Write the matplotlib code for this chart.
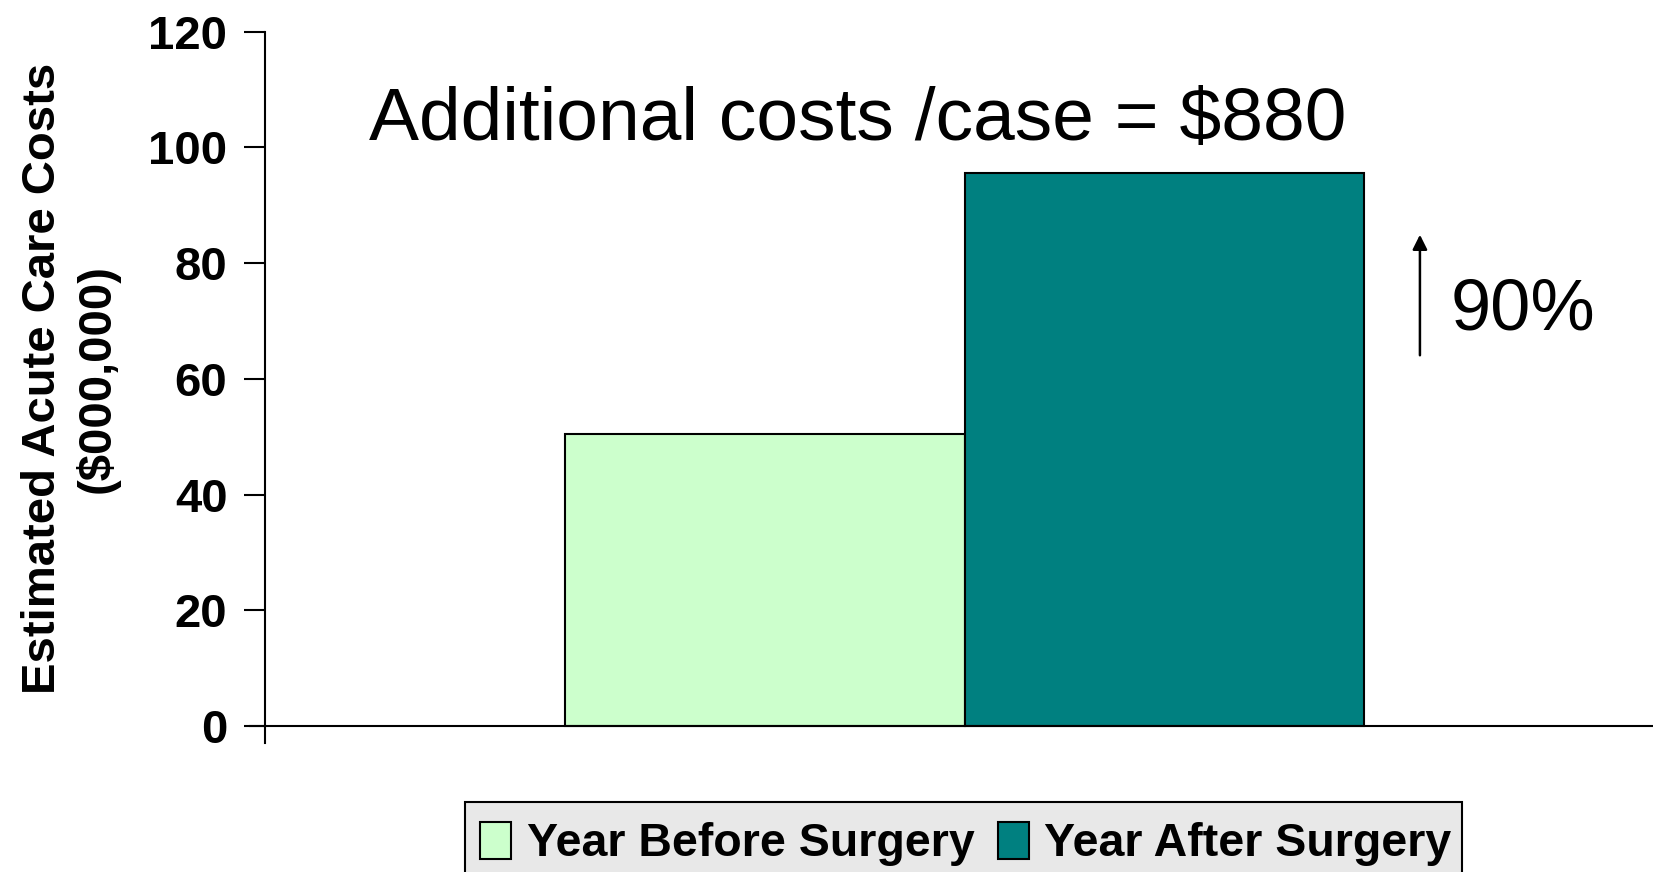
import matplotlib
matplotlib.use("Agg")
import matplotlib.pyplot as plt
from matplotlib.patches import Rectangle
import numpy as np

# Data
categories = [""]
series_names = ["Year Before Surgery", "Year After Surgery"]
series_values = [[50.5], [95.5]]
series_colors = ["#CCFFCC", "#008080"]
yticks = [0, 20, 40, 60, 80, 100, 120]
title_text = "Additional costs /case = $880"
pct_text = "90%"
ylabel_text = "Estimated Acute Care Costs\n($000,000)"

plt.rcParams['font.family'] = ['Liberation Sans', 'DejaVu Sans']

W, H = 1653, 872
fig = plt.figure(figsize=(W / 100, H / 100), dpi=100)
ax = fig.add_axes([0.1603, 0.148, 0.8397, 0.9638 - 0.148])

x = np.arange(len(categories))
w = 0.2875
handles = []
for i, (name, vals, col) in enumerate(zip(series_names, series_values, series_colors)):
    off = (i - 0.5) * w
    b = ax.bar(x + off, vals, width=w, color=col, edgecolor="black", linewidth=1.5,
               label=name, zorder=2)
    handles.append(b)

ax.set_xlim(-0.504, 0.496)
ax.set_ylim(-2.9, 120)
ax.set_yticks(yticks)
ax.set_yticklabels([str(t) for t in yticks], fontsize=34, fontweight="bold")
ax.set_xticks([])
for s in ["top", "right", "bottom"]:
    ax.spines[s].set_visible(False)
ax.spines["left"].set_linewidth(1.5)
ax.tick_params(axis="y", direction="out", length=15, width=1.5, pad=12)
ax.axhline(0, color="black", linewidth=1.5, zorder=3, clip_on=False)
ax.plot([-0.504 - 15 / 1388, -0.504], [0, 0], color="black", lw=1.5, clip_on=False,
        transform=ax.transData)

fig.text(0.0425, 0.5665, ylabel_text, rotation=90, ha="center", va="center",
         fontsize=34, fontweight="bold", multialignment="center", linespacing=1.25)

fig.text(0.2232, 0.8394, title_text, ha="left", va="baseline", fontsize=54)
fig.text(0.8778, 0.6216, pct_text, ha="left", va="baseline", fontsize=52)

ax.annotate("", xy=(0.859, 0.734), xytext=(0.859, 0.5894),
            xycoords="figure fraction", textcoords="figure fraction",
            arrowprops=dict(arrowstyle="-|>", color="black", lw=1.8,
                            mutation_scale=22))

# legend box (extends past the bottom edge as in the reference)
box = Rectangle((465 / W, -0.05), (1462 - 465) / W, 0.05 + 1 - 802 / H,
                transform=fig.transFigure, facecolor="#E8E8E8", edgecolor="black",
                linewidth=1.5, zorder=0)
fig.patches.append(box)

leg = fig.legend(handles=handles, labels=series_names, loc="center left",
                 bbox_to_anchor=(480 / W, 1 - 844 / H), ncol=2, frameon=False,
                 prop=dict(size=33.5, weight="bold"), handlelength=0.67,
                 handleheight=0.86, handletextpad=0.33, columnspacing=0.5,
                 borderpad=0, borderaxespad=0)
for h in leg.legend_handles:
    h.set_linewidth(1.5)

fig.savefig("out.png", dpi=100)
